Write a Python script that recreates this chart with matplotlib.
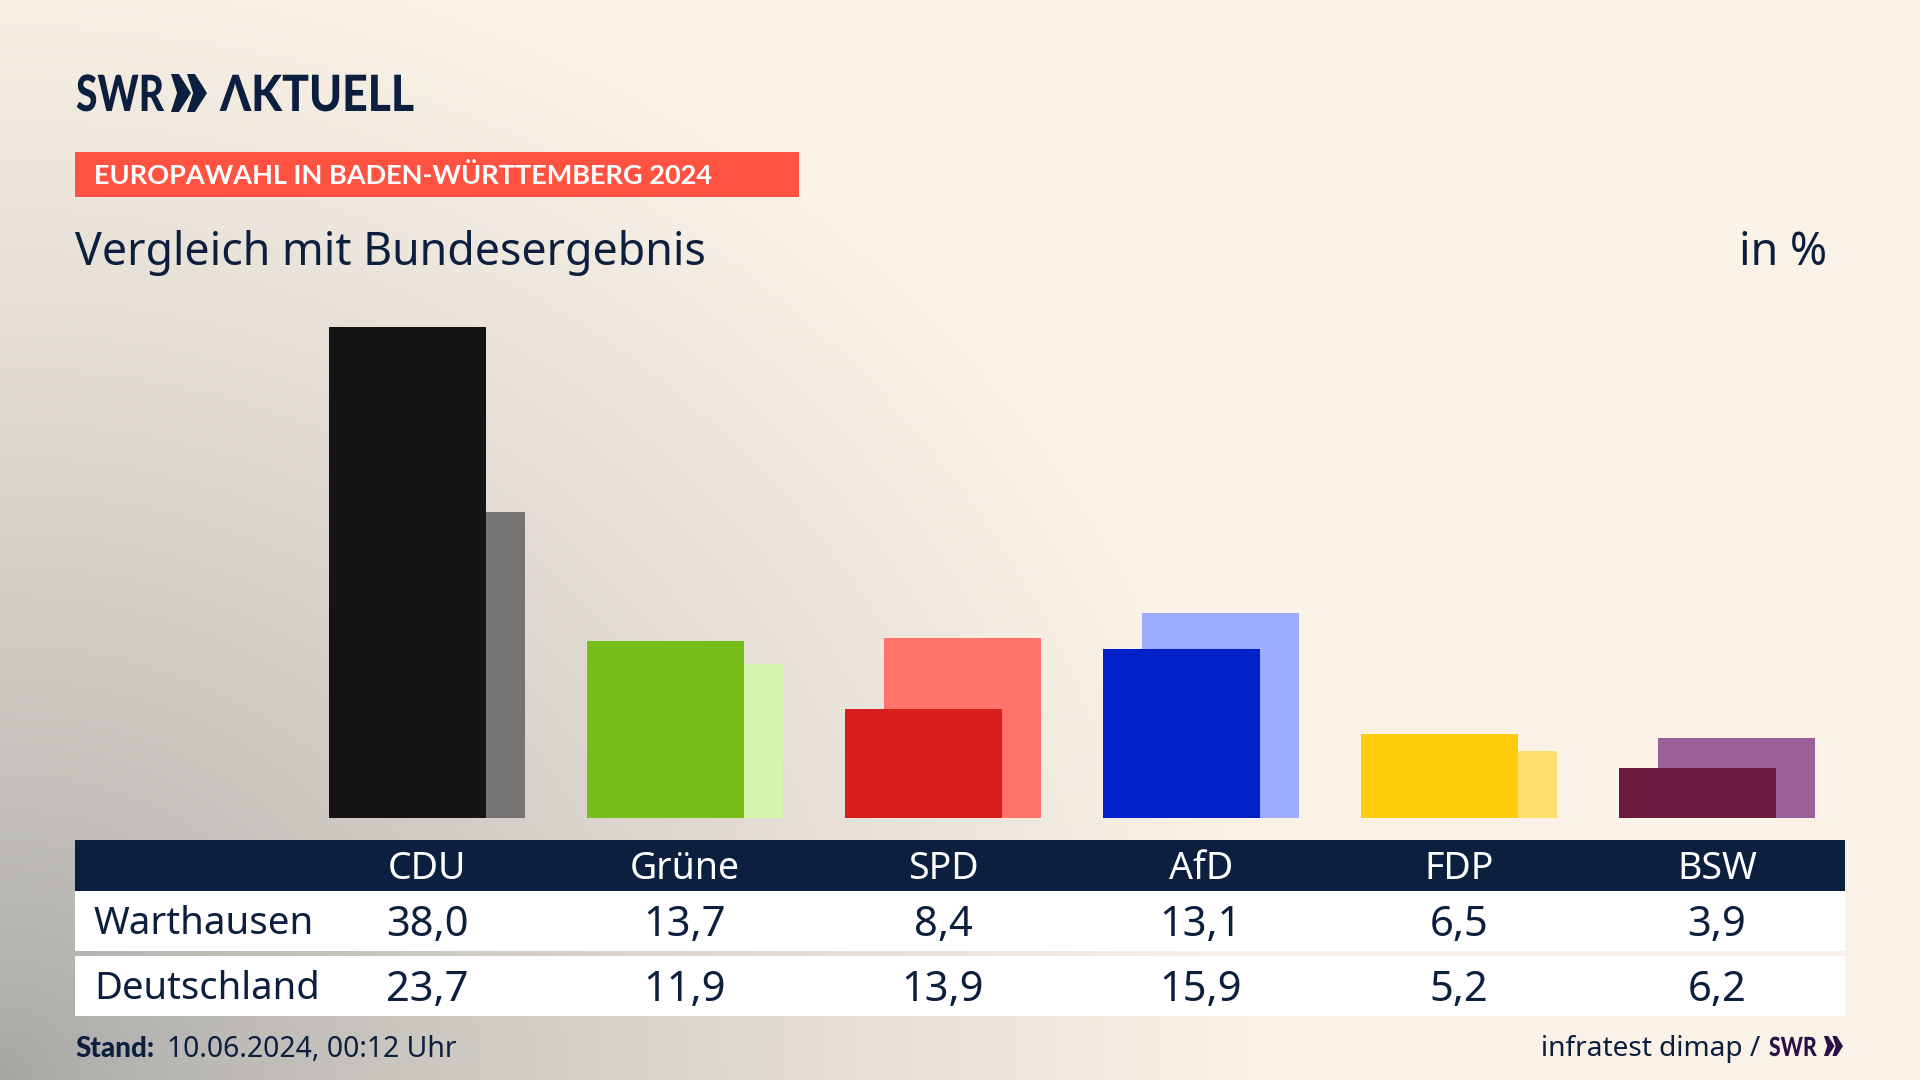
#!/usr/bin/env python3
# -*- coding: utf-8 -*-
"""
Bar chart of the European election result, local against federal.
"""

import matplotlib
matplotlib.use('Agg')
import matplotlib.pyplot as plt
import numpy as np
from matplotlib.patches import Polygon, Rectangle
from matplotlib.patheffects import AbstractPathEffect
from matplotlib.transforms import Affine2D

parties = ['CDU', 'Grüne', 'SPD', 'AfD', 'FDP', 'BSW']
warthausen = [38.0, 13.7, 8.4, 13.1, 6.5, 3.9]
deutschland = [23.7, 11.9, 13.9, 15.9, 5.2, 6.2]
front_colors = ['#141414', '#78BE1A', '#D61F1C', '#0020C8', '#FFCC0C', '#6A1A3F']
back_colors = ['#757472', '#D7F5AC', '#FF736C', '#9DABFF', '#FFE06F', '#9A6097']

NAVY = '#0C1F3F'
HEAVY_FONT = ['Lato', 'DejaVu Sans']

plt.rcParams['font.family'] = ['Noto Sans', 'DejaVu Sans']


class Squeeze(AbstractPathEffect):
    """
    Narrows text around a pixel column, the logo letters are condensed.
    """

    def __init__(self, anchor, factor):
        super().__init__()
        self.anchor = anchor
        self.factor = factor

    def draw_path(self, renderer, gc, tpath, affine, rgbFace=None):
        narrow = Affine2D().translate(-self.anchor, 0).scale(self.factor, 1)
        narrow = narrow.translate(self.anchor, 0)
        renderer.draw_path(gc, tpath, affine + narrow, rgbFace)


def comma(value):
    return f'{value:.1f}'.replace('.', ',')


def chevrons(ax, x, y_top, y_bottom, width, color):
    """
    Draws the two arrow heads of the logo.
    """
    mid = (y_top + y_bottom) / 2
    head = width * 0.555
    thick = width * 0.22
    notch = width * 0.17
    for start in (x, x + width - head):
        ax.add_patch(Polygon([
            (start, y_top), (start + thick, y_top),
            (start + head, mid),
            (start + thick, y_bottom), (start, y_bottom),
            (start + notch, mid)],
            closed=True, facecolor=color, edgecolor='none'))


def logo_text(ax, x, y, label, size, factor, color):
    ax.text(x, y, label, fontsize=size, fontweight='black', color=color,
            va='baseline', ha='left', family=HEAVY_FONT,
            path_effects=[Squeeze(x, factor)])


figure = plt.figure(figsize=(19.2, 10.8), dpi=100)

# page in pixel coordinates
page = figure.add_axes([0, 0, 1, 1])
page.set_xlim(0, 1920)
page.set_ylim(1080, 0)
page.axis('off')

# background, cream fading into grey towards the lower left corner
grid_x, grid_y = np.meshgrid(np.linspace(0, 1920, 480), np.linspace(0, 1080, 270))
dist = np.hypot(grid_x / 1.25, (1080 - grid_y) * 0.88)
fade = np.clip(dist / 1000, 0, 1) ** 0.75
cream = np.array([250, 242, 231]) / 255
grey = np.array([165, 165, 163]) / 255
shade = grey + (cream - grey) * fade[..., None]
page.imshow(shade, extent=(0, 1920, 1080, 0), aspect='auto', zorder=0)

# logo
logo_text(page, 76, 111, 'SWR', 36, 0.78, NAVY)
chevrons(page, 171, 74, 112, 36, NAVY)
logo_text(page, 220, 111, 'ΛKTUELL', 36, 0.89, NAVY)

# headline
page.add_patch(Rectangle((75, 152), 724, 45, facecolor='#FF5240', edgecolor='none'))
page.text(94, 184, 'EUROPAWAHL IN BADEN-WÜRTTEMBERG 2024', fontsize=19.5,
          fontweight='bold', color='white', va='baseline', family=HEAVY_FONT)
page.text(75, 265, 'Vergleich mit Bundesergebnis', fontsize=32.2, color=NAVY,
          va='baseline')
page.text(1827, 265, 'in %', fontsize=32.2, color=NAVY, va='baseline', ha='right')

# table
page.add_patch(Rectangle((75, 840), 1770, 51, facecolor=NAVY, edgecolor='none'))
page.add_patch(Rectangle((75, 891), 1770, 60, facecolor='white', edgecolor='none'))
page.add_patch(Rectangle((75, 956), 1770, 60, facecolor='white', edgecolor='none'))
page.text(94, 934, 'Warthausen', fontsize=27.7, color=NAVY, va='baseline')
page.text(94, 999, 'Deutschland', fontsize=27.5, color=NAVY, va='baseline')

centers = [427 + 258 * i for i in range(len(parties))]
for center, party, local, federal in zip(centers, parties, warthausen, deutschland):
    page.text(center, 879, party, fontsize=27, color='white', ha='center', va='baseline')
    page.text(center, 936, comma(local), fontsize=30, color=NAVY, ha='center', va='baseline')
    page.text(center, 1001, comma(federal), fontsize=30, color=NAVY, ha='center', va='baseline')

# footer
page.text(75, 1057, 'Stand:', fontsize=20, fontweight='black', color=NAVY, va='baseline',
          family=HEAVY_FONT)
page.text(167, 1057, '10.06.2024, 00:12 Uhr', fontsize=20.4, color=NAVY, va='baseline')
page.text(1760, 1056, 'infratest dimap /', fontsize=20.2, color=NAVY, va='baseline', ha='right')
logo_text(page, 1769, 1056, 'SWR', 19, 0.8, '#2A1145')
chevrons(page, 1824, 1036, 1056, 19, '#2A1145')

# bars, each column 258 px wide and 12.92 px per percent
left, right = 75, 1845
bottom, top = 818, 250
bars = figure.add_axes([left / 1920, 1 - bottom / 1080, (right - left) / 1920,
                        (bottom - top) / 1080])
bars.patch.set_alpha(0)
bars.axis('off')
positions = np.arange(len(parties))
bars.bar(positions + 0.0756, deutschland, width=0.605, color=back_colors, linewidth=0)
bars.bar(positions - 0.0756, warthausen, width=0.605, color=front_colors, linewidth=0)
bars.set_xlim((left - 427) / 258, (right - 427) / 258)
bars.set_ylim(0, (bottom - top) / 12.92)

figure.savefig('out.png', dpi=100)
plt.close(figure)
